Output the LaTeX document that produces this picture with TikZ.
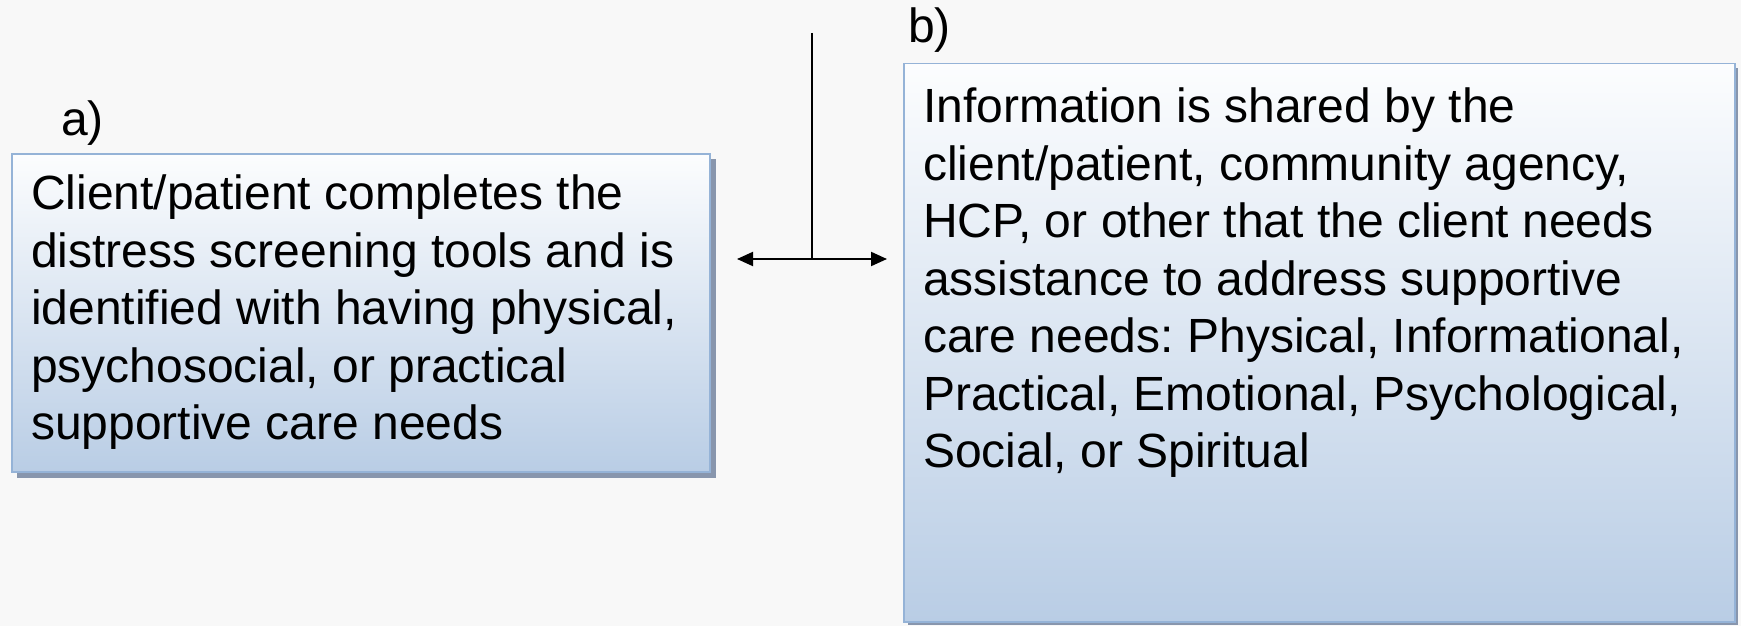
\documentclass[tikz,border=0pt]{standalone}
\usepackage{fontspec}
\setmainfont{Liberation Sans}
\usetikzlibrary{arrows.meta,shadows}
\definecolor{bgc}{HTML}{F8F8F8}
\definecolor{boxborder}{HTML}{95B3D7}
\definecolor{boxtop}{HTML}{FCFDFE}
\definecolor{boxbottom}{HTML}{B9CDE5}
\definecolor{shadowc}{HTML}{8896AD}
\frenchspacing
\tikzset{
  boxstyle/.style={draw=boxborder, line width=1.5pt, rectangle, inner sep=0pt,
    top color=boxtop, bottom color=boxbottom},
  bodytext/.style={font=\fontsize{48}{57.5}\selectfont\frenchspacing, align=left, inner sep=0pt, anchor=north west, text=black},
  labeltext/.style={font=\fontsize{48}{57.5}\selectfont, inner sep=0pt, anchor=base west, text=black},
}
\begin{document}
\begin{tikzpicture}[x=1pt,y=-1pt]
\fill[bgc] (0,0) rectangle (1741,626);
\useasboundingbox (0,0) rectangle (1741,626);
% shadows
\fill[shadowc] (17,159) rectangle (716,478);
\fill[shadowc] (908,68) rectangle (1738,625);
% boxes
\node[boxstyle, minimum width=698pt, minimum height=318pt, anchor=north west] (boxa) at (11,153) {};
\node[boxstyle, minimum width=831pt, minimum height=558pt, anchor=north west] (boxb) at (903,63) {};
% labels
\node[labeltext] (la) at (61,135) {a)};
\node[labeltext] (lb) at (908,43) {b)};
% texts
\node[bodytext] (ta) at (31,175) {Client/patient completes the\\distress screening tools and is\\identified with having physical,\\psychosocial, or practical\\supportive care needs};
\node[bodytext] (tb) at (923,88) {Information is shared by the\\client/patient, community agency,\\HCP, or other that the client needs\\assistance to address supportive\\care needs: Physical, Informational,\\Practical, Emotional, Psychological,\\Social, or Spiritual};
% connectors
\coordinate (vtop) at (812,33);
\coordinate (vjoin) at (812,259);
\coordinate (hl) at (737,259);
\coordinate (hr) at (887,259);
\draw[line width=1.5pt] (vtop) -- (vjoin);
\draw[line width=2pt, {Triangle[length=16pt,width=14pt]}-{Triangle[length=16pt,width=14pt]}] (hl) -- (hr);
\end{tikzpicture}
\end{document}
